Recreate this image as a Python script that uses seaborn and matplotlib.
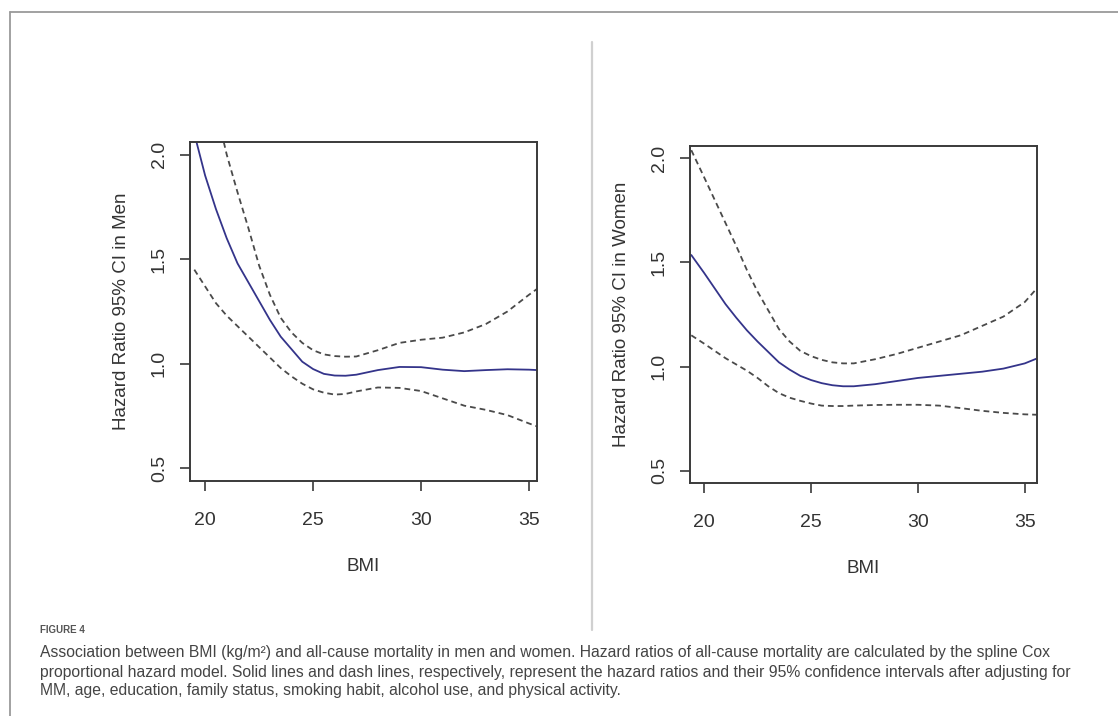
import numpy as np
import pandas as pd
import matplotlib
matplotlib.use("Agg")
import matplotlib.pyplot as plt
from matplotlib.lines import Line2D
import seaborn as sns

# ---- spline Cox model output: hazard ratio and 95% CI by BMI ----
bmi_men = [19.5, 20.0, 20.5, 21.0, 21.5, 22.0, 22.5, 23.0, 23.5, 24.0, 24.5, 25.0,
           25.5, 26.0, 26.5, 27.0, 28.0, 29.0, 30.0, 31.0, 32.0, 33.0, 34.0, 35.0, 35.4]
hr_men = [2.10, 1.90, 1.74, 1.60, 1.48, 1.39, 1.30, 1.21, 1.13, 1.07, 1.01, 0.975,
          0.952, 0.944, 0.943, 0.948, 0.970, 0.985, 0.984, 0.972, 0.965, 0.970, 0.974, 0.972, 0.970]
upper_men = [2.60, 2.45, 2.22, 2.00, 1.82, 1.65, 1.47, 1.33, 1.22, 1.15, 1.10, 1.065,
             1.045, 1.037, 1.034, 1.035, 1.065, 1.100, 1.115, 1.125, 1.150, 1.190, 1.250, 1.330, 1.360]
lower_men = [1.45, 1.37, 1.29, 1.23, 1.18, 1.13, 1.08, 1.03, 0.98, 0.94, 0.905, 0.878,
             0.862, 0.853, 0.856, 0.868, 0.887, 0.885, 0.870, 0.835, 0.800, 0.780, 0.755, 0.715, 0.700]

bmi_women = [19.4, 20.0, 20.5, 21.0, 21.5, 22.0, 22.5, 23.0, 23.5, 24.0, 24.5, 25.0,
             25.5, 26.0, 26.5, 27.0, 28.0, 29.0, 30.0, 31.0, 32.0, 33.0, 34.0, 35.0, 35.6]
hr_women = [1.536, 1.45, 1.375, 1.30, 1.235, 1.174, 1.12, 1.07, 1.02, 0.985, 0.955, 0.935,
            0.920, 0.910, 0.905, 0.905, 0.915, 0.930, 0.945, 0.955, 0.965, 0.975, 0.990, 1.015, 1.040]
upper_women = [2.04, 1.91, 1.80, 1.69, 1.58, 1.464, 1.36, 1.27, 1.18, 1.12, 1.075, 1.05,
               1.032, 1.020, 1.015, 1.015, 1.035, 1.060, 1.090, 1.120, 1.150, 1.195, 1.240, 1.310, 1.380]
lower_women = [1.15, 1.11, 1.075, 1.04, 1.01, 0.98, 0.945, 0.905, 0.872, 0.850, 0.835, 0.822,
               0.812, 0.810, 0.810, 0.812, 0.815, 0.816, 0.816, 0.812, 0.800, 0.787, 0.777, 0.770, 0.768]

x_ticks = [20, 25, 30, 35]
y_ticks = [0.5, 1.0, 1.5, 2.0]
y_tick_labels = ["0.5", "1.0", "1.5", "2.0"]

caption_head = "FIGURE 4"
caption_lines = [
    "Association between BMI (kg/m\u00b2) and all-cause mortality in men and women. Hazard ratios of all-cause mortality are calculated by the spline Cox",
    "proportional hazard model. Solid lines and dash lines, respectively, represent the hazard ratios and their 95% confidence intervals after adjusting for",
    "MM, age, education, family status, smoking habit, alcohol use, and physical activity.",
]

sns.set_theme(style="white")
plt.rcParams["font.family"] = ["Liberation Sans", "DejaVu Sans"]

W, H = 1118, 716
fig = plt.figure(figsize=(W / 100, H / 100), dpi=100)
fig.patch.set_facecolor("white")


def px_box(x0, y0, x1, y1):
    return [x0 / W, 1 - y1 / H, (x1 - x0) / W, (y1 - y0) / H]


SOLID = "#34348a"
DASH = "#4a4a4a"
AXIS = "#3a3a3a"
TXT = "#333333"

panels = [
    dict(box=(190, 142, 537, 481), bmi=bmi_men, hr=hr_men, up=upper_men, lo=lower_men,
         xlim=(19.3, 35.37), ylabel="Hazard Ratio 95% CI in Men"),
    dict(box=(690, 146, 1037, 483), bmi=bmi_women, hr=hr_women, up=upper_women, lo=lower_women,
         xlim=(19.34, 35.57), ylabel="Hazard Ratio 95% CI in Women"),
]

for p in panels:
    ax = fig.add_axes(px_box(*p["box"]))
    df = pd.DataFrame({"BMI": p["bmi"], "HR": p["hr"], "Upper": p["up"], "Lower": p["lo"]})
    sns.lineplot(data=df, x="BMI", y="Upper", ax=ax, color=DASH, linewidth=1.3,
                 linestyle=(0, (3.2, 2.2)), errorbar=None, sort=False)
    sns.lineplot(data=df, x="BMI", y="Lower", ax=ax, color=DASH, linewidth=1.3,
                 linestyle=(0, (3.2, 2.2)), errorbar=None, sort=False)
    sns.lineplot(data=df, x="BMI", y="HR", ax=ax, color=SOLID, linewidth=1.3,
                 errorbar=None, sort=False)
    ax.set_xlim(*p["xlim"])
    ax.set_ylim(0.44, 2.06)
    ax.set_xticks(x_ticks)
    ax.set_yticks(y_ticks)
    ax.set_yticklabels(y_tick_labels, rotation=90, va="center")
    ax.tick_params(axis="both", direction="out", length=7, width=1.2, color=AXIS,
                   labelsize=14, labelcolor=TXT, left=True, bottom=True)
    ax.tick_params(axis="y", pad=9)
    ax.tick_params(axis="x", pad=15)
    for s in ax.spines.values():
        s.set_visible(True)
        s.set_color(AXIS)
        s.set_linewidth(1.4)
    ax.set_xlabel("BMI", fontsize=13.5, color=TXT, labelpad=21)
    ax.set_ylabel(p["ylabel"], fontsize=13.5, color=TXT, labelpad=15)
    ax.set_facecolor("white")

# outer frame and panel divider
fig.add_artist(Line2D([10 / W, 1.0], [1 - 12 / H, 1 - 12 / H], color="#9a9a9a", linewidth=1.3))
fig.add_artist(Line2D([10 / W, 10 / W], [0.0, 1 - 12 / H], color="#9a9a9a", linewidth=1.3))
fig.add_artist(Line2D([592 / W, 592 / W], [1 - 630 / H, 1 - 42 / H], color="#d0d0d0", linewidth=1.6))

# caption
fig.text(40 / W, 1 - 630 / H, caption_head, fontsize=7, fontweight="bold", color="#555555",
         va="center", ha="left")
for i, line in enumerate(caption_lines):
    fig.text(40 / W, 1 - (653 + i * 19) / H, line, fontsize=11.3, color="#444444",
             va="center", ha="left")

fig.savefig("out.png", dpi=100, facecolor="white")
